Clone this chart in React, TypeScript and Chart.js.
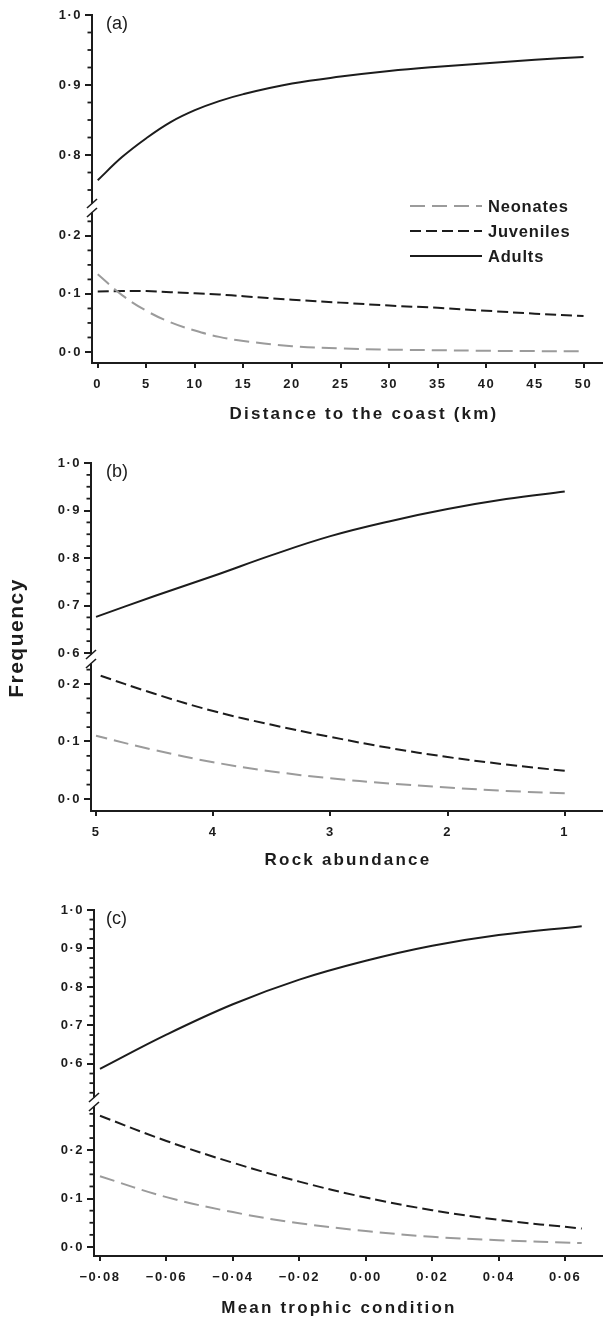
import React, { useEffect, useRef } from "react";
import { Chart, registerables } from "chart.js";

Chart.register(...registerables);

const FAMILY = "'Liberation Sans', Arial, Helvetica, sans-serif";
const INK = "#1c1c1c";
const GREY = "#9b9b9b";

const seriesNames = ["Neonates", "Juveniles", "Adults"];
const panelLetters = ["(a)", "(b)", "(c)"];
const xTitles = ["Distance to the coast (km)", "Rock abundance", "Mean trophic condition"];
const yAxisTitle = "Frequency";

// Panel (a): distance to the coast (km)
const distanceKm = [0, 2.5, 5, 7.5, 10, 12.5, 15, 20, 25, 30, 35, 40, 45, 50];
const neonatesByDistance = [0.134, 0.098, 0.071, 0.051, 0.037, 0.026, 0.019, 0.01, 0.006, 0.004, 0.003, 0.002, 0.0015, 0.001];
const juvenilesByDistance = [0.104, 0.105, 0.105, 0.103, 0.101, 0.099, 0.096, 0.09, 0.085, 0.08, 0.076, 0.071, 0.066, 0.062];
const adultsByDistance = [0.764, 0.797, 0.824, 0.847, 0.864, 0.877, 0.887, 0.902, 0.912, 0.92, 0.926, 0.931, 0.936, 0.94];

// Panel (b): rock abundance (axis reversed, 5 on the left)
const rockAbundance = [1, 1.5, 2, 2.5, 3, 3.5, 4, 4.5, 5];
const neonatesByRock = [0.01, 0.014, 0.02, 0.027, 0.036, 0.048, 0.064, 0.085, 0.11];
const juvenilesByRock = [0.049, 0.06, 0.073, 0.089, 0.108, 0.129, 0.153, 0.183, 0.217];
const adultsByRock = [0.94, 0.924, 0.903, 0.877, 0.846, 0.806, 0.762, 0.72, 0.676];

// Panel (c): mean trophic condition
const trophicCondition = [-0.08, -0.06, -0.04, -0.02, 0, 0.02, 0.04, 0.065];
const neonatesByTrophic = [0.146, 0.103, 0.072, 0.049, 0.033, 0.021, 0.014, 0.008];
const juvenilesByTrophic = [0.271, 0.219, 0.174, 0.135, 0.102, 0.076, 0.056, 0.038];
const adultsByTrophic = [0.587, 0.676, 0.755, 0.819, 0.868, 0.907, 0.935, 0.958];

const fmtTenths = (v: number) => v.toFixed(1).replace(".", "·");
const fmtInt = (v: number) => String(Math.round(v));
const fmtHundredths = (v: number) =>
  (v < -1e-9 ? "−" : "") + Math.abs(v).toFixed(2).replace(".", "·");

type PanelSpec = {
  letter: string;
  top: number;
  height: number;
  padTop: number;
  axisX: number;
  axisY: number;
  topMin: number;
  botMin: number;
  botMax: number;
  wTop: number;
  wBot: number;
  xs: number[];
  neonates: number[];
  juveniles: number[];
  adults: number[];
  xMin: number;
  xMax: number;
  xStep: number;
  reverse: boolean;
  xFormat: (v: number) => string;
  xTitle: string;
  titleX: number;
  titleY: number;
  legend: boolean;
  freqY: number | null;
};

const panels: PanelSpec[] = [
  {
    letter: panelLetters[0], top: 0, height: 430, padTop: 15, axisX: 92, axisY: 363,
    topMin: 0.7243, botMin: -0.019, botMax: 0.248, wTop: 193, wBot: 155,
    xs: distanceKm, neonates: neonatesByDistance, juveniles: juvenilesByDistance, adults: adultsByDistance,
    xMin: -0.59, xMax: 51.9, xStep: 5, reverse: false, xFormat: fmtInt, xTitle: xTitles[0],
    titleX: 364, titleY: 414, legend: true, freqY: null,
  },
  {
    letter: panelLetters[1], top: 430, height: 450, padTop: 33, axisX: 91, axisY: 381,
    topMin: 0.5874, botMin: -0.0209, botMax: 0.2435, wTop: 196, wBot: 152,
    xs: rockAbundance, neonates: neonatesByRock, juveniles: juvenilesByRock, adults: adultsByRock,
    xMin: 0.682, xMax: 5.043, xStep: 1, reverse: true, xFormat: fmtInt, xTitle: xTitles[1],
    titleX: 348, titleY: 430, legend: false, freqY: 208,
  },
  {
    letter: panelLetters[2], top: 880, height: 438, padTop: 30, axisX: 94, axisY: 376,
    topMin: 0.501, botMin: -0.0187, botMax: 0.2995, wTop: 192, wBot: 154,
    xs: trophicCondition, neonates: neonatesByTrophic, juveniles: juvenilesByTrophic, adults: adultsByTrophic,
    xMin: -0.0818, xMax: 0.0711, xStep: 0.02, reverse: false, xFormat: fmtHundredths, xTitle: xTitles[2],
    titleX: 339, titleY: 428.5, legend: false, freqY: null,
  },
];

const decorPlugin = {
  id: "decor",
  beforeLayout(chart: any) {
    chart.ctx.letterSpacing = "1.5px";
  },
  beforeDraw(chart: any) {
    chart.ctx.letterSpacing = "1.5px";
  },
  afterDraw(chart: any, _args: any, opts: any) {
    const ctx = chart.ctx;
    const area = chart.chartArea;
    const yTop = chart.scales.yTop;
    const yBot = chart.scales.yBot;
    const ax = area.left;
    const yb = yBot.top;
    ctx.save();
    ctx.letterSpacing = "0px";
    ctx.setLineDash([]);
    ctx.strokeStyle = INK;
    ctx.lineWidth = 1.8;
    const tick = (py: number) => {
      ctx.beginPath();
      ctx.moveTo(ax - 4.5, py);
      ctx.lineTo(ax, py);
      ctx.stroke();
    };
    for (let k = 1; k < 80; k++) {
      const v = 1 - k * 0.025;
      if (v < yTop.min - 1e-9) break;
      const py = yTop.getPixelForValue(v);
      if (py > yb - 6) break;
      if (k % 4 !== 0) tick(py);
    }
    for (let k = 1; k < 80; k++) {
      const v = k * 0.025;
      if (v > yBot.max + 1e-9) break;
      const py = yBot.getPixelForValue(v);
      if (py < yb + 6) break;
      if (k % 4 !== 0) tick(py);
    }
    // axis break
    ctx.fillStyle = "#ffffff";
    ctx.fillRect(ax - 3, yb - 4.5, 6, 9);
    ctx.lineWidth = 1.6;
    for (const dy of [-4.5, 4.5]) {
      ctx.beginPath();
      ctx.moveTo(ax - 5, yb + dy + 4.5);
      ctx.lineTo(ax + 5, yb + dy - 4.5);
      ctx.stroke();
    }
    // panel letter
    ctx.fillStyle = INK;
    ctx.font = `18px ${FAMILY}`;
    ctx.textAlign = "left";
    ctx.textBaseline = "middle";
    ctx.fillText(opts.letter, 106, area.top + 9);
    // x axis title
    ctx.font = `bold 17px ${FAMILY}`;
    ctx.letterSpacing = "2.2px";
    ctx.textAlign = "center";
    ctx.fillText(opts.title, opts.titleX, opts.titleY);
    ctx.letterSpacing = "0px";
    // legend
    if (opts.legend) {
      chart.data.datasets.forEach((ds: any, i: number) => {
        const y = area.top + 191 + i * 25;
        ctx.strokeStyle = ds.borderColor;
        ctx.lineWidth = ds.borderWidth;
        ctx.setLineDash(ds.borderDash || []);
        ctx.beginPath();
        ctx.moveTo(ax + 318, y);
        ctx.lineTo(ax + 390, y);
        ctx.stroke();
        ctx.setLineDash([]);
        ctx.fillStyle = INK;
        ctx.font = `bold 16.5px ${FAMILY}`;
        ctx.letterSpacing = "0.8px";
        ctx.textAlign = "left";
        ctx.textBaseline = "middle";
        ctx.fillText(ds.label, ax + 396, y + 1);
        ctx.letterSpacing = "0px";
      });
    }
    // shared y title
    if (opts.freqY !== null && opts.freqY !== undefined) {
      ctx.save();
      ctx.translate(17, opts.freqY);
      ctx.rotate(-Math.PI / 2);
      ctx.fillStyle = INK;
      ctx.font = `bold 21px ${FAMILY}`;
      ctx.letterSpacing = "1.5px";
      ctx.textAlign = "center";
      ctx.textBaseline = "middle";
      ctx.fillText(yAxisTitle, 0, 0);
      ctx.restore();
    }
    ctx.restore();
  },
};

function buildConfig(s: PanelSpec) {
  const tickFont = { family: FAMILY, size: 13, weight: "bold" as const };
  const yScale = (min: number, max: number, stackWeight: number, order: number) => ({
    type: "linear",
    position: "left",
    stack: "freq",
    stackWeight,
    weight: order,
    min,
    max,
    ticks: {
      stepSize: 0.1,
      includeBounds: false,
      autoSkip: false,
      color: INK,
      font: tickFont,
      padding: 3,
      callback: (v: any) => fmtTenths(Number(v)),
    },
    grid: {
      display: true,
      drawOnChartArea: false,
      drawTicks: true,
      tickLength: 7,
      tickWidth: 2,
      tickColor: INK,
      color: INK,
      lineWidth: 2,
    },
    border: { display: true, color: INK, width: 2 },
    afterFit: (sc: any) => {
      sc.width = s.axisX;
      sc.paddingTop = 0;
      sc.paddingBottom = 0;
    },
  });
  const mk = (label: string, ys: number[], axis: string, color: string, dash: number[]) => ({
    label,
    data: s.xs.map((x, i) => ({ x, y: ys[i] })),
    xAxisID: "x",
    yAxisID: axis,
    borderColor: color,
    borderWidth: 2,
    borderDash: dash,
    pointRadius: 0,
    pointHoverRadius: 0,
    tension: 0.4,
    fill: false,
  });
  return {
    type: "line",
    data: {
      datasets: [
        mk(seriesNames[0], s.neonates, "yBot", GREY, [15, 7]),
        mk(seriesNames[1], s.juveniles, "yBot", INK, [11, 5]),
        mk(seriesNames[2], s.adults, "yTop", INK, []),
      ],
    },
    options: {
      responsive: false,
      maintainAspectRatio: false,
      animation: false,
      events: [],
      layout: { padding: { top: s.padTop, left: 0, right: 1, bottom: 0 } },
      plugins: {
        legend: { display: false },
        tooltip: { enabled: false },
        decor: {
          letter: s.letter,
          legend: s.legend,
          freqY: s.freqY,
          title: s.xTitle,
          titleX: s.titleX,
          titleY: s.titleY,
        },
      },
      scales: {
        x: {
          type: "linear",
          position: "bottom",
          min: s.xMin,
          max: s.xMax,
          reverse: s.reverse,
          ticks: {
            stepSize: s.xStep,
            includeBounds: false,
            autoSkip: false,
            maxRotation: 0,
            color: INK,
            font: tickFont,
            padding: 9,
            callback: (v: any) => s.xFormat(Number(v)),
          },
          grid: {
            display: true,
            drawOnChartArea: false,
            drawTicks: true,
            tickLength: 5,
            tickWidth: 2,
            tickColor: INK,
            color: INK,
            lineWidth: 2,
          },
          border: { display: true, color: INK, width: 2 },
          title: { display: false, text: s.xTitle },
          afterFit: (sc: any) => {
            sc.height = s.height - s.axisY;
            sc.paddingLeft = 0;
            sc.paddingRight = 0;
          },
        },
        yTop: yScale(s.topMin, 1.0, s.wTop, 2),
        yBot: yScale(s.botMin, s.botMax, s.wBot, 1),
      },
    },
    plugins: [decorPlugin],
  };
}

function Panel({ spec }: { spec: PanelSpec }) {
  const ref = useRef<HTMLCanvasElement | null>(null);
  useEffect(() => {
    const canvas = ref.current;
    if (!canvas) return;
    const chart = new Chart(canvas, buildConfig(spec) as any);
    return () => chart.destroy();
  }, [spec]);
  return (
    <canvas
      ref={ref}
      width={603}
      height={spec.height}
      style={{ position: "absolute", left: 0, top: spec.top, width: 603, height: spec.height }}
    />
  );
}

export default function App() {
  return (
    <div style={{ position: "absolute", left: 0, top: 0, width: 603, height: 1318, background: "#ffffff" }}>
      {panels.map((p) => (
        <Panel key={p.letter} spec={p} />
      ))}
    </div>
  );
}
